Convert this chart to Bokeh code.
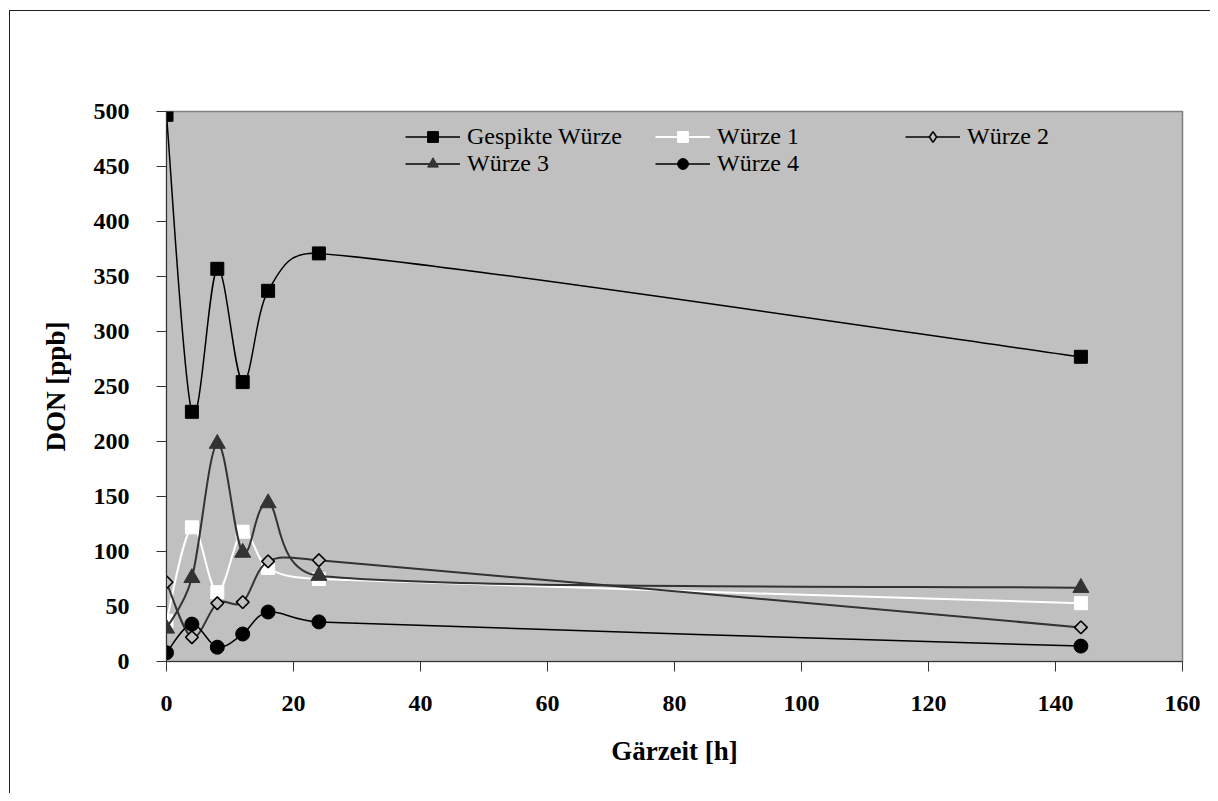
import math
from bokeh.plotting import figure
from bokeh.models import Legend, LegendItem, FixedTicker, Range1d, ColumnDataSource, InlineStyleSheet
from bokeh.embed import file_html
from bokeh.resources import INLINE

# ---------------- data ----------------
hours = [0, 4, 8, 12, 16, 24, 144]
gespikte = [497, 227, 357, 254, 337, 371, 277]
wuerze1 = [37, 122, 63, 118, 85, 75, 53]
wuerze2 = [72, 22, 53, 54, 91, 92, 31]
wuerze3 = [30, 76, 198, 99, 144, 78, 67]
wuerze4 = [8, 34, 13, 25, 45, 36, 14]
series_names = ["Gespikte Würze", "Würze 1", "Würze 2", "Würze 3", "Würze 4"]
x_ticks = [0, 20, 40, 60, 80, 100, 120, 140, 160]
y_ticks = [0, 50, 100, 150, 200, 250, 300, 350, 400, 450, 500]
x_label = "Gärzeit [h]"
y_label = "DON [ppb]"

# ---------------- layout ----------------
W, H = 1210, 793
ML, MR, MT, MB = 166, 28, 111, 132
FW, FH = W - ML - MR, H - MT - MB
X0, X1, Y0, Y1 = 0, 160, 0, 500
SERIF = "Liberation Serif"

p = figure(width=W, height=H, output_backend="svg", toolbar_location=None, tools="",
           x_range=Range1d(X0, X1), y_range=Range1d(Y0, Y1),
           min_border_left=ML, min_border_right=MR, min_border_top=MT, min_border_bottom=MB)
# a range far outside the frame, used only by legend-sample renderers
p.extra_y_ranges = {"legend_only": Range1d(-5000, -4000)}
p.background_fill_color = "#c0c0c0"
p.border_fill_color = "white"
p.outline_line_color = "#808080"
p.outline_line_width = 1.5
p.xgrid.visible = False
p.ygrid.visible = False

# chart-area border (only its top and left edges are inside the picture)
p.stylesheets = [InlineStyleSheet(css=(
    ":host { position: relative; }\n"
    ":host::after { content: ''; position: absolute; left: 9px; top: 10px; right: 0; bottom: 0;"
    " border-top: 1px solid #222; border-left: 1px solid #222; pointer-events: none; }"
))]

for ax in (p.xaxis[0], p.yaxis[0]):
    ax.axis_line_color = "#333333"
    ax.axis_line_width = 1
    ax.major_tick_line_color = "#333333"
    ax.major_tick_out = 10
    ax.major_tick_in = 0
    ax.minor_tick_line_color = None
    ax.major_label_text_font = SERIF
    ax.major_label_text_font_style = "bold"
    ax.major_label_text_font_size = "24px"
    ax.major_label_text_color = "black"
    ax.axis_label_text_font = SERIF
    ax.axis_label_text_font_style = "bold"
    ax.axis_label_text_font_size = "27px"
    ax.axis_label_text_color = "black"

p.xaxis.ticker = FixedTicker(ticks=x_ticks)
p.yaxis.ticker = FixedTicker(ticks=y_ticks)
p.xaxis.major_label_standoff = 24
p.yaxis.major_label_standoff = 27
p.xaxis.axis_label = x_label
p.yaxis.axis_label = y_label
p.xaxis.axis_label_standoff = 22
p.yaxis.axis_label_standoff = 20

# pixel scale for smoothing (Excel-like smoothed line, computed in screen space)
SX = FW / (X1 - X0)
SY = FH / (Y1 - Y0)


def smooth_segments(xs, ys):
    pts = [(x * SX, y * SY) for x, y in zip(xs, ys)]
    n = len(pts)
    out = {k: [] for k in ("x0", "y0", "x1", "y1", "cx0", "cy0", "cx1", "cy1")}
    f = 1.0 / 6.0
    for i in range(n - 1):
        p0 = pts[i - 1] if i > 0 else pts[i]
        p1 = pts[i]
        p2 = pts[i + 1]
        p3 = pts[i + 2] if i + 2 < n else pts[i + 1]
        d12 = math.dist(p1, p2)
        d02 = math.dist(p0, p2)
        d13 = math.dist(p1, p3)
        f1 = f if d02 * f <= d12 / 2 else d12 / (2 * d02)
        f2 = f if d13 * f <= d12 / 2 else d12 / (2 * d13)
        c1 = (p1[0] + (p2[0] - p0[0]) * f1, p1[1] + (p2[1] - p0[1]) * f1)
        c2 = (p2[0] - (p3[0] - p1[0]) * f2, p2[1] - (p3[1] - p1[1]) * f2)
        out["x0"].append(p1[0] / SX); out["y0"].append(p1[1] / SY)
        out["x1"].append(p2[0] / SX); out["y1"].append(p2[1] / SY)
        out["cx0"].append(c1[0] / SX); out["cy0"].append(c1[1] / SY)
        out["cx1"].append(c2[0] / SX); out["cy1"].append(c2[1] / SY)
    return out


styles = [
    dict(values=gespikte, line="black", lw=1.5, marker="square", size=13, angle=0,
         fill="black", mline="black", mlw=1, lmarker="square", lsize=13),
    dict(values=wuerze1, line="white", lw=2, marker="square", size=13, angle=0,
         fill="white", mline="white", mlw=1, lmarker="square", lsize=13),
    dict(values=wuerze2, line="#333333", lw=2, marker="square", size=9, angle=math.pi / 4,
         fill="#c0c0c0", mline="black", mlw=1.6, lmarker="diamond", lsize=13),
    dict(values=wuerze3, line="#333333", lw=2, marker="triangle", size=16, angle=0,
         fill="#333333", mline="#333333", mlw=1, lmarker="triangle", lsize=16),
    dict(values=wuerze4, line="black", lw=1.5, marker="circle", size=14, angle=0,
         fill="black", mline="black", mlw=1, lmarker="circle", lsize=14),
]

items = []
for name, st in zip(series_names, styles):
    seg = smooth_segments(hours, st["values"])
    p.bezier(x0=seg["x0"], y0=seg["y0"], x1=seg["x1"], y1=seg["y1"],
             cx0=seg["cx0"], cy0=seg["cy0"], cx1=seg["cx1"], cy1=seg["cy1"],
             line_color=st["line"], line_width=st["lw"])
    src = ColumnDataSource(dict(x=hours, y=st["values"]))
    p.scatter(x="x", y="y", source=src, marker=st["marker"], size=st["size"],
              angle=st["angle"], fill_color=st["fill"], line_color=st["mline"],
              line_width=st["mlw"])
    # legend-sample renderers, mapped onto a range outside the frame
    leg_line = p.line(x="x", y="y", source=src, y_range_name="legend_only",
                      line_color=st["line"], line_width=st["lw"])
    leg_mark = p.scatter(x="x", y="y", source=src, y_range_name="legend_only",
                         marker=st["lmarker"], size=st["lsize"], fill_color=st["fill"],
                         line_color=st["mline"], line_width=st["mlw"])
    items.append(LegendItem(label=name, renderers=[leg_line, leg_mark]))

legend = Legend(items=items, orientation="horizontal", ncols=3,
                location=(239, FH - 12 - 54))
legend.background_fill_alpha = 0
legend.border_line_alpha = 0
legend.padding = 0
legend.margin = 0
legend.spacing = 0
legend.glyph_width = 55
legend.glyph_height = 27
legend.label_height = 27
legend.label_width = 188
legend.label_standoff = 7
legend.label_text_font = SERIF
legend.label_text_font_size = "24px"
legend.label_text_color = "black"
p.add_layout(legend, "center")

open("out.html", "w").write(file_html(p, INLINE))
